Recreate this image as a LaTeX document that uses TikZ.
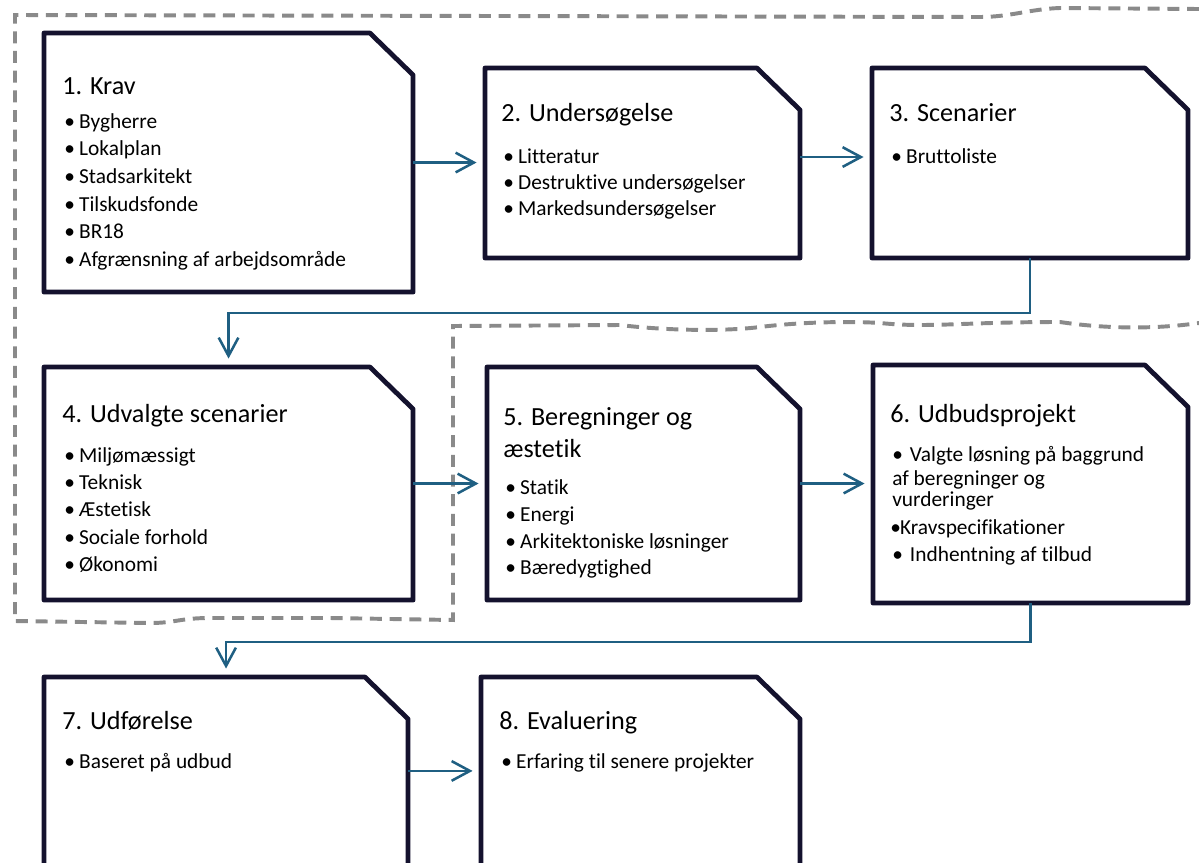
\documentclass[tikz,border=0pt]{standalone}
\usepackage{fontspec}
\setmainfont[Ligatures={NoCommon,NoRequired,NoContextual}]{Carlito}
\usetikzlibrary{arrows.meta,positioning}

\definecolor{boxnavy}{RGB}{20,18,46}
\definecolor{flowblue}{RGB}{31,95,130}
\definecolor{outlinegray}{RGB}{138,138,138}

\tikzset{
  boxarea/.style={draw=none, inner sep=0pt, outer sep=0pt, anchor=north west},
  boxline/.style={draw=boxnavy, fill=white, line width=3.4pt, line join=round},
  boxtitle/.style={anchor=west, inner sep=0pt, yshift=-0.12cm, font=\fontsize{18.6}{22}\selectfont, text height=1.5ex, text depth=.3ex},
  bullettext/.style={anchor=west, inner sep=0pt, yshift=-0.11cm, font=\fontsize{15.2}{18}\selectfont, text height=1.5ex, text depth=.3ex},
  flow/.style={draw=flowblue, line width=1.8pt, -{Straight Barb[length=13pt,width=14pt]}, shorten >=6pt},
  groupline/.style={draw=outlinegray, line width=2.8pt, dash pattern=on 8.5pt off 5.5pt},
}

% box with one cut corner, drawn round an empty node
\newcommand{\cutbox}[1]{%
  \draw[boxline] (#1.north west) -- ([xshift=-1.08cm]#1.north east)
    -- ([yshift=-1.05cm]#1.north east) -- (#1.south east) -- (#1.south west) -- cycle;}
\newcommand{\bul}{\makebox[12pt][l]{\hspace{1.5pt}•}}

\begin{document}
\begin{tikzpicture}[x=0.025cm, y=-0.025cm]
  \useasboundingbox (0,0) rectangle (1199,863);
  \clip (0,0) rectangle (1199,863);

  % dashed grouping line
  \draw[groupline] (1199,9) -- (1060,8) .. controls (1030,9) and (1010,17) .. (980,17)
    -- (15,15) -- (15,621) -- (150,623) .. controls (175,623) and (180,618) .. (210,618)
    -- (330,618) -- (453,620) -- (453,326) -- (620,325)
    .. controls (660,330) and (720,332) .. (760,327)
    .. controls (800,322) and (850,321) .. (880,323)
    .. controls (930,328) and (960,322) .. (1060,322)
    .. controls (1100,328) and (1150,330) .. (1199,323);

  % boxes
  \node[boxarea, minimum width=9.225cm, minimum height=6.475cm] (krav) at (44,33) {};
  \node[boxarea, minimum width=7.875cm, minimum height=4.75cm] (undersog) at (485,68) {};
  \node[boxarea, minimum width=7.9cm, minimum height=4.75cm] (scenarier) at (872,68) {};
  \node[boxarea, minimum width=9.225cm, minimum height=5.825cm] (udvalgte) at (44,367) {};
  \node[boxarea, minimum width=7.825cm, minimum height=5.825cm] (beregning) at (487,367) {};
  \node[boxarea, minimum width=7.875cm, minimum height=5.95cm] (udbud) at (873,365) {};
  \node[boxarea, minimum width=9.1cm, minimum height=5.075cm] (udforelse) at (44,677) {};
  \node[boxarea, minimum width=7.975cm, minimum height=5.075cm] (evaluering) at (481,677) {};
  \cutbox{krav}
  \cutbox{undersog}
  \cutbox{scenarier}
  \cutbox{udvalgte}
  \cutbox{beregning}
  \cutbox{udbud}
  \cutbox{udforelse}
  \cutbox{evaluering}

  % 1
  \node[boxtitle] (kravtitle) at ([shift={(18,53)}]krav.north west) {1. Krav};
  \foreach \txt [count=\i] in {Bygherre,Lokalplan,Stadsarkitekt,Tilskudsfonde,BR18,Afgrænsning af arbejdsområde}
    \node[bullettext] (krav\i) at ([shift={(18,59+27.7*\i)}]krav.north west) {\bul\txt};

  % 2
  \node[boxtitle] (undersogtitle) at ([shift={(16,45)}]undersog.north west) {2. Undersøgelse};
  \foreach \txt [count=\i] in {Litteratur,Destruktive undersøgelser,Markedsundersøgelser}
    \node[bullettext] (undersog\i) at ([shift={(16,61+26*\i)}]undersog.north west) {\bul\txt};

  % 3
  \node[boxtitle] (scenariertitle) at ([shift={(17,45)}]scenarier.north west) {3. Scenarier};
  \node[bullettext] (scenarier1) at ([shift={(17,87)}]scenarier.north west) {\bul Bruttoliste};

  % 4
  \node[boxtitle] (udvalgtetitle) at ([shift={(18,47)}]udvalgte.north west) {4. Udvalgte scenarier};
  \foreach \txt [count=\i] in {Miljømæssigt,Teknisk,Æstetisk,Sociale forhold,Økonomi}
    \node[bullettext] (udvalgte\i) at ([shift={(18,59.5+27.3*\i)}]udvalgte.north west) {\bul\txt};

  % 5
  \node[boxtitle] (beregningtitle) at ([shift={(16,50)}]beregning.north west) {5. Beregninger og};
  \node[boxtitle] (beregningtitleb) at ([shift={(16,82)}]beregning.north west) {æstetik};
  \foreach \txt [count=\i] in {Statik,Energi,Arkitektoniske løsninger,Bæredygtighed}
    \node[bullettext] (beregning\i) at ([shift={(16,92.5+26.7*\i)}]beregning.north west) {\bul\txt};

  % 6
  \node[boxtitle] (udbudtitle) at ([shift={(17,49)}]udbud.north west) {6. Udbudsprojekt};
  \node[bullettext] (udbud1) at ([shift={(17,88)}]udbud.north west) {\makebox[14pt][l]{\hspace{1.5pt}•}Valgte løsning på baggrund};
  \node[bullettext] (udbud1b) at ([shift={(19,112)}]udbud.north west) {af beregninger og};
  \node[bullettext] (udbud1c) at ([shift={(19,133)}]udbud.north west) {vurderinger};
  \node[bullettext] (udbud2) at ([shift={(17,161)}]udbud.north west) {\makebox[7pt][l]{•}Kravspecifikationer};
  \node[bullettext] (udbud3) at ([shift={(17,188)}]udbud.north west) {\makebox[14pt][l]{\hspace{1.5pt}•}Indhentning af tilbud};

  % 7 and 8
  \node[boxtitle] (udforelsetitle) at ([shift={(18,44)}]udforelse.north west) {7. Udførelse};
  \node[bullettext] (udforelse1) at ([shift={(18,83)}]udforelse.north west) {\bul Baseret på udbud};
  \node[boxtitle] (evalueringtitle) at ([shift={(18,44)}]evaluering.north west) {8. Evaluering};
  \node[bullettext] (evaluering1) at ([shift={(18,83)}]evaluering.north west) {\bul Erfaring til senere projekter};

  % flow arrows
  \coordinate (knee34) at (0,313);
  \coordinate (knee67) at (0,642);
  \draw[flow] (krav.east) -- (krav.east -| undersog.west);
  \draw[flow] ([yshift=0.15cm]undersog.east) -- ([yshift=0.15cm]undersog.east -| scenarier.west);
  \draw[flow] (scenarier.south) |- (udvalgte.north |- knee34) -- (udvalgte.north);
  \draw[flow] (udvalgte.east) -- (udvalgte.east -| beregning.west);
  \draw[flow] (beregning.east) -- (beregning.east -| udbud.west);
  \draw[flow] (udbud.south) |- (udforelse.north |- knee67) -- (udforelse.north);
  \draw[flow] ([yshift=0.19cm]udforelse.east) -- ([yshift=0.19cm]udforelse.east -| evaluering.west);
\end{tikzpicture}
\end{document}
